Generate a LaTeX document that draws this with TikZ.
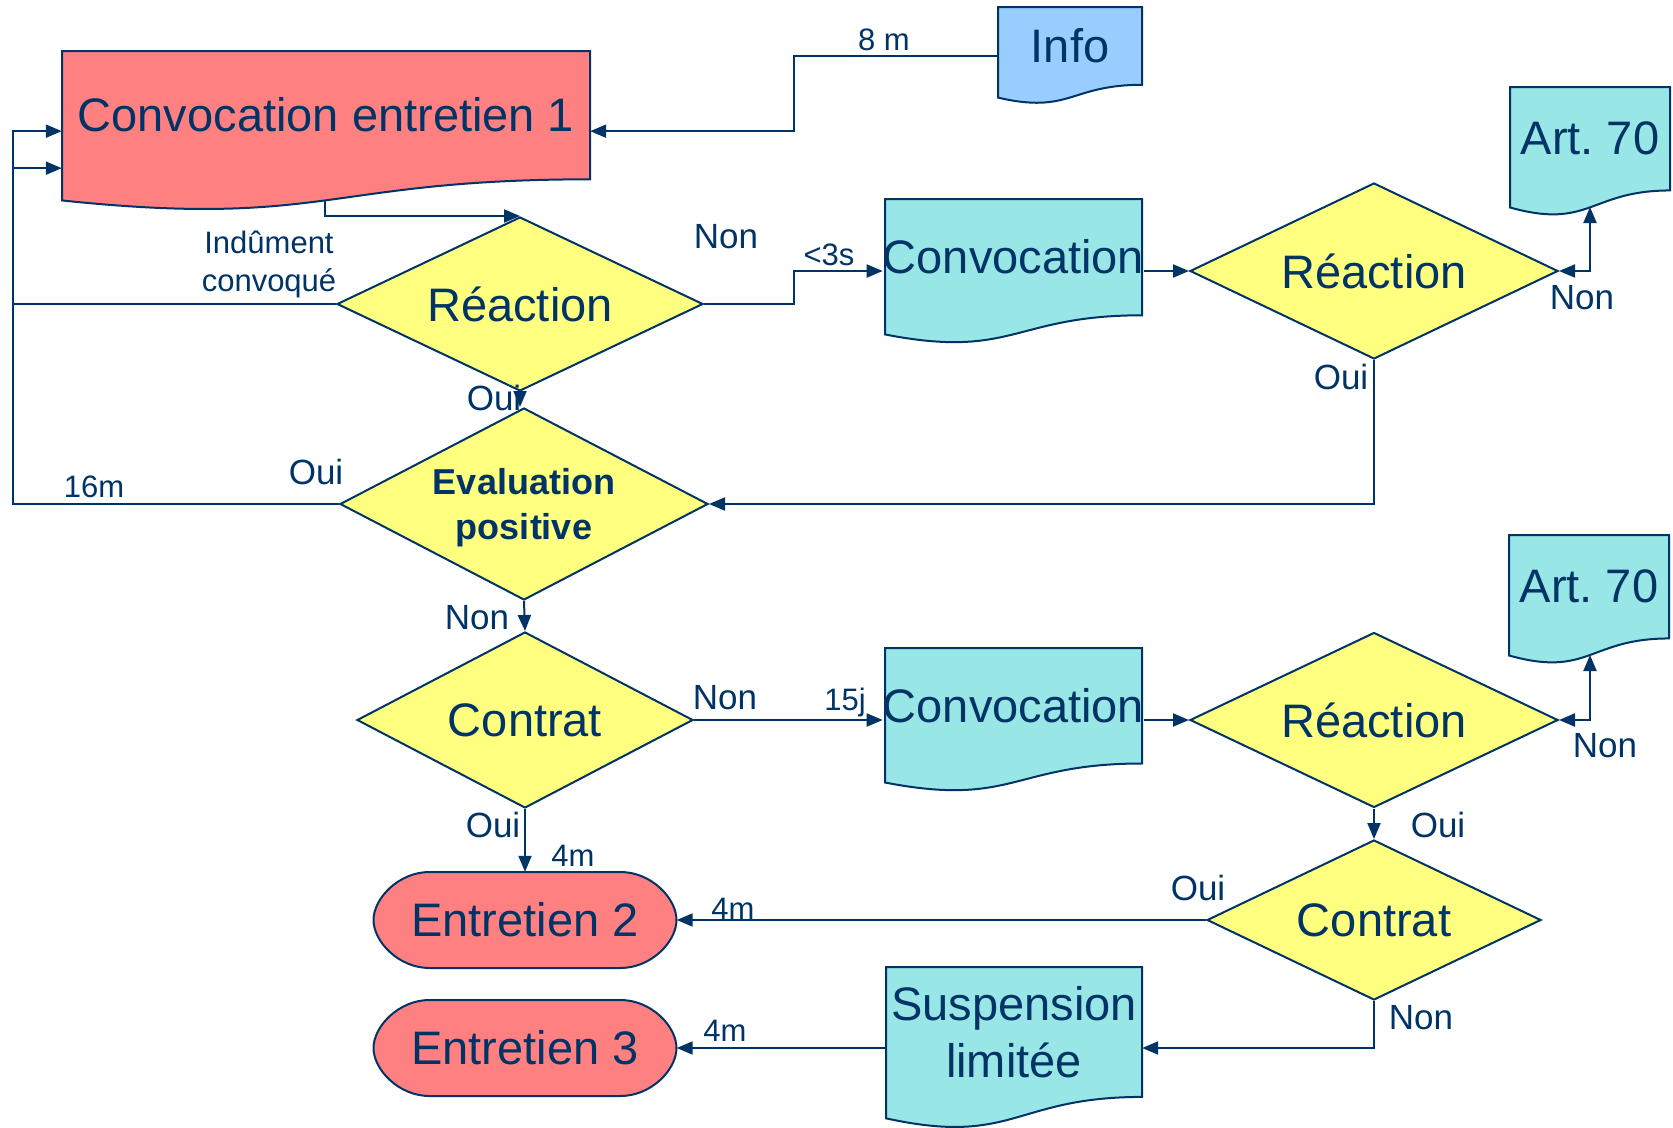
\documentclass[tikz,border=0pt]{standalone}
\usepackage{fontspec}
\setmainfont{Liberation Sans}
\frenchspacing
\usetikzlibrary{arrows.meta,shapes.geometric,calc}
\definecolor{navy}{HTML}{003366}
\definecolor{docred}{HTML}{FF8080}
\definecolor{infoblue}{HTML}{99CCFF}
\definecolor{doccyan}{HTML}{99E6E6}
\definecolor{decyellow}{HTML}{FFFF80}
\tikzset{
  shapeline/.style={draw=navy, line width=2pt, line join=miter},
  big/.style={font=\fontsize{47}{57}\selectfont, text=navy},
  dec/.style={diamond, aspect=2.1, shapeline, fill=decyellow, inner sep=0pt, big},
  docnode/.style={inner sep=0pt, big, align=center},
  lbl/.style={font=\fontsize{35}{42}\selectfont, text=navy, inner sep=0pt, text height=25pt, text depth=0pt},
  sml/.style={font=\fontsize{31}{38}\selectfont, text=navy, inner sep=0pt, text height=22pt, text depth=0pt},
  conn/.style={draw=navy, line width=2pt, -{Triangle[length=16pt,width=13pt]}},
  conntwo/.style={draw=navy, line width=2pt, {Triangle[length=16pt,width=13pt]}-{Triangle[length=16pt,width=13pt]}},
}
% document shape: name, x0, y0, w, h, fill, text
\newcommand{\docshape}[7]{%
  \filldraw[shapeline, fill=#6] (#2,#3) -- ({#2+#4},#3) -- ({#2+#4},{#3+0.802*#5})
    .. controls ({#2+0.5*#4},{#3+0.802*#5}) and ({#2+0.5*#4},{#3+1.1075*#5}) .. (#2,{#3+0.934*#5}) -- cycle;
  \node[docnode, minimum width=#4pt, minimum height={0.802*#5pt}] (#1) at ({#2+0.5*#4},{#3+0.401*#5}) {#7};
}
% terminator: name, cx, cy, text
\newcommand{\termshape}[4]{%
  \filldraw[shapeline, fill=docred] ({#2-95.5},{#3-48}) -- ({#2+95.5},{#3-48})
    .. controls ({#2+126.4},{#3-48}) and ({#2+151.5},{#3-21.5}) .. ({#2+151.5},#3)
    .. controls ({#2+151.5},{#3+21.5}) and ({#2+126.4},{#3+48}) .. ({#2+95.5},{#3+48})
    -- ({#2-95.5},{#3+48})
    .. controls ({#2-126.4},{#3+48}) and ({#2-151.5},{#3+21.5}) .. ({#2-151.5},#3)
    .. controls ({#2-151.5},{#3-21.5}) and ({#2-126.4},{#3-48}) .. ({#2-95.5},{#3-48}) -- cycle;
  \node[docnode, minimum width=303pt, minimum height=96pt] (#1) at (#2,#3) {#4};
}
\begin{document}
\begin{tikzpicture}[x=1pt,y=-1pt]
\path[use as bounding box, fill=white] (0,0) rectangle (1673,1127);

% documents
\docshape{ce1}{62}{51}{528}{160}{docred}{Convocation entretien 1}
\docshape{info}{998}{7}{144}{97}{infoblue}{Info}
\docshape{art1}{1510}{87}{160}{129}{doccyan}{Art. 70}
\docshape{cv1}{885}{199}{257}{145}{doccyan}{Convocation}
\docshape{cv2}{885}{648}{257}{144}{doccyan}{Convocation}
\docshape{art2}{1509}{535}{160}{129}{doccyan}{Art. 70}
\docshape{susp}{886}{967}{256}{162}{doccyan}{Suspension\\limitée}

% decisions
\node[dec, minimum width=366pt, minimum height=174pt] (r1) at (520,304) {Réaction};
\node[dec, minimum width=368pt, minimum height=176pt] (r2) at (1374,271) {Réaction};
\node[dec, minimum width=368pt, minimum height=192pt, font=\fontsize{36}{45}\selectfont\bfseries, align=center, text depth=0pt] (ev) at (524,504) {Evaluation\\positive};
\node[dec, minimum width=336pt, minimum height=176pt] (c1) at (525,720) {Contrat};
\node[dec, minimum width=368pt, minimum height=175pt] (r3) at (1374,720) {Réaction};
\node[dec, minimum width=334pt, minimum height=160pt] (c2) at (1374,920) {Contrat};

% terminators
\termshape{e2}{525}{920}{Entretien 2}
\termshape{e3}{525}{1048}{Entretien 3}

% free-end coordinates on wavy bottoms
\coordinate (ce1b) at (325,200);
\coordinate (art1b) at (1590,207);
\coordinate (art2b) at (1590,655);

% connectors
\draw[conn] ($(info.west)+(0,10)$) -| ($(ce1.east)+(204,16)$) -- ($(ce1.east)+(0,16)$);
\draw[conn] (ce1b) |- (r1.north);
\draw[conn] (r1.west) -- (13,304) |- ($(ce1.west)+(0,53)$);
\draw[conn] (ev.west) -- (13,504) |- ($(ce1.west)+(0,16)$);
\draw[conn] (r1.east) -- (794,304) |- (cv1.west |- r2.west);
\draw[conn] (cv1.east |- r2.west) -- (r2.west);
\draw[conntwo] (r2.east) -| (art1b);
\draw[conn] (r2.south) |- (ev.east);
\draw[conn] (r1.south) -- (r1.south |- ev.north);
\draw[conn] (ev.south) -- (c1.north);
\draw[conn] (c1.east) -- (cv2.west |- c1.east);
\draw[conn] (cv2.east |- r3.west) -- (r3.west);
\draw[conntwo] (r3.east) -| (art2b);
\draw[conn] (r3.south) -- (c2.north);
\draw[conn] (c1.south) -- (e2.north);
\draw[conn] (c2.west) -- (e2.east);
\draw[conn] (c2.south) |- (susp.east |- e3.east);
\draw[conn] (susp.west |- e3.east) -- (e3.east);

% labels
\node[sml] (l8m) at (884,39) {8 m};
\node[lbl] (lnon1) at (726,236) {Non};
\node[sml] (l3s) at (829,254) {<3s};
\node[font=\fontsize{31}{38}\selectfont, text=navy, inner sep=0pt, align=center] (lind) at (269,264) {Indûment\\convoqué};
\node[lbl] (lnon2) at (1582,297) {Non};
\node[lbl] (loui1) at (1341,377) {Oui};
\node[lbl] (loui2) at (494,398) {Oui};
\node[lbl] (loui3) at (316,472) {Oui};
\node[sml] (l16) at (94,486) {16m};
\node[lbl] (lnon3) at (477,617) {Non};
\node[lbl] (lnon4) at (725,697) {Non};
\node[sml] (l15) at (845,699) {15j};
\node[lbl] (lnon5) at (1605,745) {Non};
\node[lbl] (loui4) at (1438,825) {Oui};
\node[lbl] (loui5) at (493,825) {Oui};
\node[sml] (l4a) at (573,855) {4m};
\node[lbl] (loui6) at (1198,888) {Oui};
\node[sml] (l4b) at (733,908) {4m};
\node[lbl] (lnon6) at (1421,1017) {Non};
\node[sml] (l4c) at (725,1030) {4m};
\end{tikzpicture}
\end{document}
